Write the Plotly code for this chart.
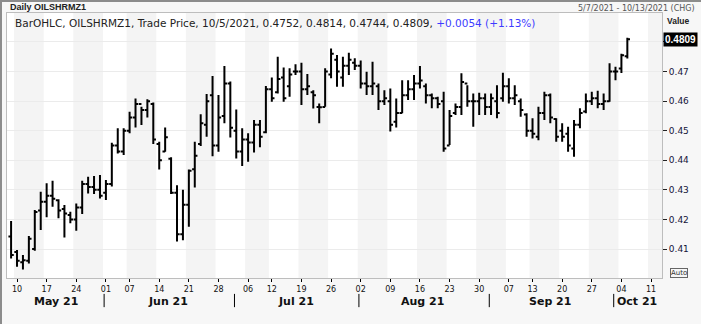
import pandas as pd
import plotly.graph_objects as go

# Trading sessions shown on the axis (US holidays removed); data runs through 10/5
sessions = pd.bdate_range("2021-05-07", "2021-10-13", freq="C",
                          holidays=["2021-05-31", "2021-07-05", "2021-09-06"])

opens = [0.4142, 0.4090, 0.4055, 0.4060, 0.4100, 0.4230, 0.4260, 0.4280, 0.4265, 0.4235,
         0.4215, 0.4200, 0.4240, 0.4320, 0.4310, 0.4300, 0.4290, 0.4320, 0.4450, 0.4430,
         0.4500, 0.4545, 0.4590, 0.4570, 0.4590, 0.4455, 0.4430, 0.4405, 0.4290, 0.4150,
         0.4250, 0.4370, 0.4455, 0.4520, 0.4620, 0.4450, 0.4550, 0.4660, 0.4500, 0.4430,
         0.4470, 0.4460, 0.4520, 0.4495, 0.4640, 0.4630, 0.4680, 0.4650, 0.4700, 0.4700,
         0.4640, 0.4630, 0.4580, 0.4580, 0.4690, 0.4740, 0.4680, 0.4720, 0.4730, 0.4720,
         0.4660, 0.4650, 0.4650, 0.4600, 0.4600, 0.4530, 0.4560, 0.4620, 0.4640, 0.4660,
         0.4650, 0.4620, 0.4610, 0.4600, 0.4450, 0.4560, 0.4580, 0.4660, 0.4600, 0.4600,
         0.4610, 0.4580, 0.4600, 0.4610, 0.4650, 0.4610, 0.4600, 0.4555, 0.4500, 0.4480,
         0.4560, 0.4620, 0.4540, 0.4500, 0.4490, 0.4440, 0.4520, 0.4565, 0.4600, 0.4610,
         0.4590, 0.4600, 0.4700, 0.4710, 0.4752]
highs = [0.4195, 0.4097, 0.4080, 0.4144, 0.4232, 0.4294, 0.4322, 0.4331, 0.4268, 0.4249,
         0.4226, 0.4254, 0.4331, 0.4344, 0.4347, 0.4350, 0.4333, 0.4459, 0.4508, 0.4508,
         0.4564, 0.4609, 0.4581, 0.4606, 0.4595, 0.4463, 0.4511, 0.4410, 0.4316, 0.4300,
         0.4369, 0.4463, 0.4556, 0.4624, 0.4685, 0.4621, 0.4719, 0.4666, 0.4572, 0.4508,
         0.4491, 0.4536, 0.4536, 0.4651, 0.4680, 0.4750, 0.4714, 0.4711, 0.4725, 0.4730,
         0.4692, 0.4637, 0.4592, 0.4711, 0.4778, 0.4756, 0.4750, 0.4764, 0.4745, 0.4737,
         0.4699, 0.4733, 0.4660, 0.4637, 0.4643, 0.4609, 0.4671, 0.4671, 0.4688, 0.4719,
         0.4660, 0.4626, 0.4615, 0.4632, 0.4570, 0.4592, 0.4694, 0.4654, 0.4626, 0.4628,
         0.4626, 0.4626, 0.4654, 0.4696, 0.4677, 0.4654, 0.4609, 0.4559, 0.4542, 0.4581,
         0.4632, 0.4626, 0.4542, 0.4525, 0.4513, 0.4536, 0.4576, 0.4626, 0.4632, 0.4635,
         0.4626, 0.4728, 0.4716, 0.4760, 0.4814]
lows = [0.4068, 0.4040, 0.4031, 0.4051, 0.4094, 0.4164, 0.4207, 0.4243, 0.4204, 0.4139,
        0.4187, 0.4162, 0.4218, 0.4288, 0.4286, 0.4271, 0.4266, 0.4311, 0.4423, 0.4418,
        0.4491, 0.4511, 0.4519, 0.4545, 0.4455, 0.4369, 0.4429, 0.4286, 0.4125, 0.4130,
        0.4175, 0.4308, 0.4448, 0.4480, 0.4414, 0.4429, 0.4525, 0.4477, 0.4406, 0.4381,
        0.4395, 0.4426, 0.4444, 0.4491, 0.4598, 0.4626, 0.4598, 0.4615, 0.4688, 0.4587,
        0.4621, 0.4575, 0.4525, 0.4581, 0.4677, 0.4649, 0.4649, 0.4688, 0.4705, 0.4643,
        0.4621, 0.4621, 0.4570, 0.4587, 0.4497, 0.4511, 0.4559, 0.4604, 0.4604, 0.4643,
        0.4592, 0.4576, 0.4576, 0.4429, 0.4452, 0.4553, 0.4553, 0.4581, 0.4513, 0.4553,
        0.4553, 0.4553, 0.4542, 0.4598, 0.4592, 0.4587, 0.4547, 0.4480, 0.4474, 0.4468,
        0.4536, 0.4525, 0.4463, 0.4463, 0.4429, 0.4412, 0.4508, 0.4559, 0.4587, 0.4576,
        0.4570, 0.4598, 0.4671, 0.4695, 0.4744]
closes = [0.4080, 0.4060, 0.4062, 0.4135, 0.4225, 0.4260, 0.4280, 0.4270, 0.4230, 0.4220,
          0.4200, 0.4240, 0.4320, 0.4310, 0.4300, 0.4280, 0.4320, 0.4450, 0.4430, 0.4500,
          0.4545, 0.4590, 0.4570, 0.4600, 0.4470, 0.4400, 0.4478, 0.4290, 0.4150, 0.4250,
          0.4365, 0.4415, 0.4525, 0.4600, 0.4450, 0.4545, 0.4660, 0.4510, 0.4430, 0.4470,
          0.4460, 0.4520, 0.4480, 0.4640, 0.4610, 0.4675, 0.4610, 0.4690, 0.4700, 0.4640,
          0.4650, 0.4620, 0.4579, 0.4700, 0.4760, 0.4700, 0.4720, 0.4740, 0.4720, 0.4660,
          0.4650, 0.4660, 0.4600, 0.4610, 0.4520, 0.4560, 0.4620, 0.4640, 0.4660, 0.4670,
          0.4620, 0.4610, 0.4590, 0.4440, 0.4550, 0.4580, 0.4665, 0.4600, 0.4600, 0.4610,
          0.4580, 0.4610, 0.4560, 0.4650, 0.4610, 0.4620, 0.4570, 0.4500, 0.4490, 0.4560,
          0.4620, 0.4545, 0.4480, 0.4480, 0.4450, 0.4520, 0.4560, 0.4600, 0.4610, 0.4590,
          0.4600, 0.4700, 0.4700, 0.4755, 0.4809]

price_ticks = [0.41, 0.42, 0.43, 0.44, 0.45, 0.46, 0.47, 0.48]
price_labels = ["0.41", "0.42", "0.43", "0.44", "0.45", "0.46", "0.47", ""]
last_label = "0.4809"

idx = list(range(len(closes)))
n_axis = len(sessions)

# Weekly tick marks: first session of every week after the start
week_ticks, week_text = [], []
iso_weeks = [d.isocalendar()[1] for d in sessions]
for i in range(1, n_axis):
    if iso_weeks[i] != iso_weeks[i - 1]:
        week_ticks.append(i)
        week_text.append(sessions[i].strftime("%d"))

# Alternating week shading (odd ISO weeks)
shapes = []
start = 0
for i in range(1, n_axis + 1):
    if i == n_axis or iso_weeks[i] != iso_weeks[start]:
        if iso_weeks[start] % 2 == 1:
            shapes.append(dict(type="rect", xref="x", yref="paper", x0=start - 0.5, x1=i - 0.5,
                               y0=0, y1=1, fillcolor="#f4f4f4", line_width=0, layer="below"))
        start = i

x_lo, x_hi = -0.69, 109.85

# Month boundaries and labels under the axis
month_starts = [0] + [i for i in range(1, n_axis) if sessions[i].month != sessions[i - 1].month]
annotations = []
for k, s in enumerate(month_starts):
    e = month_starts[k + 1] if k + 1 < len(month_starts) else n_axis
    left = max(s - 0.5, x_lo)
    right = min(e - 0.5, x_hi)
    annotations.append(dict(x=(left + right) / 2, y=-0.087, xref="x", yref="paper",
                            text="<b>" + sessions[s].strftime("%b %y") + "</b>", showarrow=False,
                            font=dict(family="DejaVu Sans", size=11, color="#111111"),
                            xanchor="center", yanchor="middle"))
    if k > 0:
        shapes.append(dict(type="line", xref="x", yref="paper", x0=s - 0.3, x1=s - 0.3,
                           y0=-0.06, y1=-0.11, line=dict(color="#000000", width=1)))


def px_x(p):
    return (p - 7) / 655


def px_y(p):
    return (278 - p) / 265


# Frame edges of the widget
shapes += [
    dict(type="line", xref="paper", yref="paper", x0=px_x(1), x1=px_x(1), y0=px_y(0), y1=px_y(324),
         line=dict(color="#8c8c8c", width=2)),
    dict(type="line", xref="paper", yref="paper", x0=px_x(0), x1=px_x(701), y0=px_y(1), y1=px_y(1),
         line=dict(color="#8c8c8c", width=2)),
]

annotations += [
    dict(x=px_x(8), y=px_y(7), xref="paper", yref="paper", xanchor="left", yanchor="middle",
         text="<b>Daily OILSHRMZ1</b>", showarrow=False,
         font=dict(family="Liberation Sans", size=9, color="#222222")),
    dict(x=px_x(697), y=px_y(8), xref="paper", yref="paper", xanchor="right", yanchor="middle",
         text="5/7/2021 - 10/13/2021 (CHG)", showarrow=False,
         font=dict(family="DejaVu Sans", size=8, color="#555555")),
    dict(x=px_x(13), y=px_y(23), xref="paper", yref="paper", xanchor="left", yanchor="middle",
         text=("BarOHLC, OILSHRMZ1, Trade Price, 10/5/2021, 0.4752, 0.4814, 0.4744, 0.4809, "
               "<span style='color:#3c3cff'>+0.0054 (+1.13%)</span>"),
         showarrow=False, font=dict(family="DejaVu Sans", size=10.5, color="#222222")),
    dict(x=px_x(678), y=px_y(21), xref="paper", yref="paper", xanchor="center", yanchor="middle",
         text="<b>Value</b>", showarrow=False,
         font=dict(family="Liberation Sans", size=8.5, color="#222222")),
    dict(x=px_x(663), y=closes[-1], xref="paper", yref="y", xanchor="left", yanchor="middle",
         text="<b>" + last_label + "</b>", showarrow=False, bgcolor="#000000", borderpad=1,
         font=dict(family="Liberation Sans", size=10, color="#ffffff")),
    dict(x=px_x(679), y=px_y(273), xref="paper", yref="paper", xanchor="center", yanchor="middle",
         text="Auto", showarrow=False, bordercolor="#666666", borderwidth=1, borderpad=0,
         bgcolor="#f7f7f7", font=dict(family="DejaVu Sans", size=7, color="#333333")),
]

fig = go.Figure(go.Ohlc(
    x=idx, open=opens, high=highs, low=lows, close=closes,
    increasing=dict(line=dict(color="#000000", width=2)),
    decreasing=dict(line=dict(color="#000000", width=2)),
    tickwidth=0.45, hoverinfo="skip",
))

fig.update_layout(
    width=701, height=324,
    margin=dict(l=7, r=39, t=13, b=46),
    paper_bgcolor="#f7f7f7", plot_bgcolor="#ffffff",
    showlegend=False,
    shapes=shapes, annotations=annotations,
    xaxis=dict(range=[x_lo, x_hi], tickvals=week_ticks, ticktext=week_text,
               ticks="outside", ticklen=3, tickcolor="#000000",
               tickfont=dict(family="DejaVu Sans", size=8, color="#111111"),
               showgrid=False, zeroline=False, rangeslider=dict(visible=False),
               showline=True, linecolor="#bdbdbd", mirror=True),
    yaxis=dict(range=[0.4002, 0.4898], side="right", tickvals=price_ticks, ticktext=price_labels,
               ticks="outside", ticklen=4, tickcolor="#222222",
               tickfont=dict(family="DejaVu Sans", size=9, color="#141438"),
               gridcolor="#ebebeb", zeroline=False,
               showline=True, linecolor="#bdbdbd", mirror=True),
)

fig.write_html("out.html")
